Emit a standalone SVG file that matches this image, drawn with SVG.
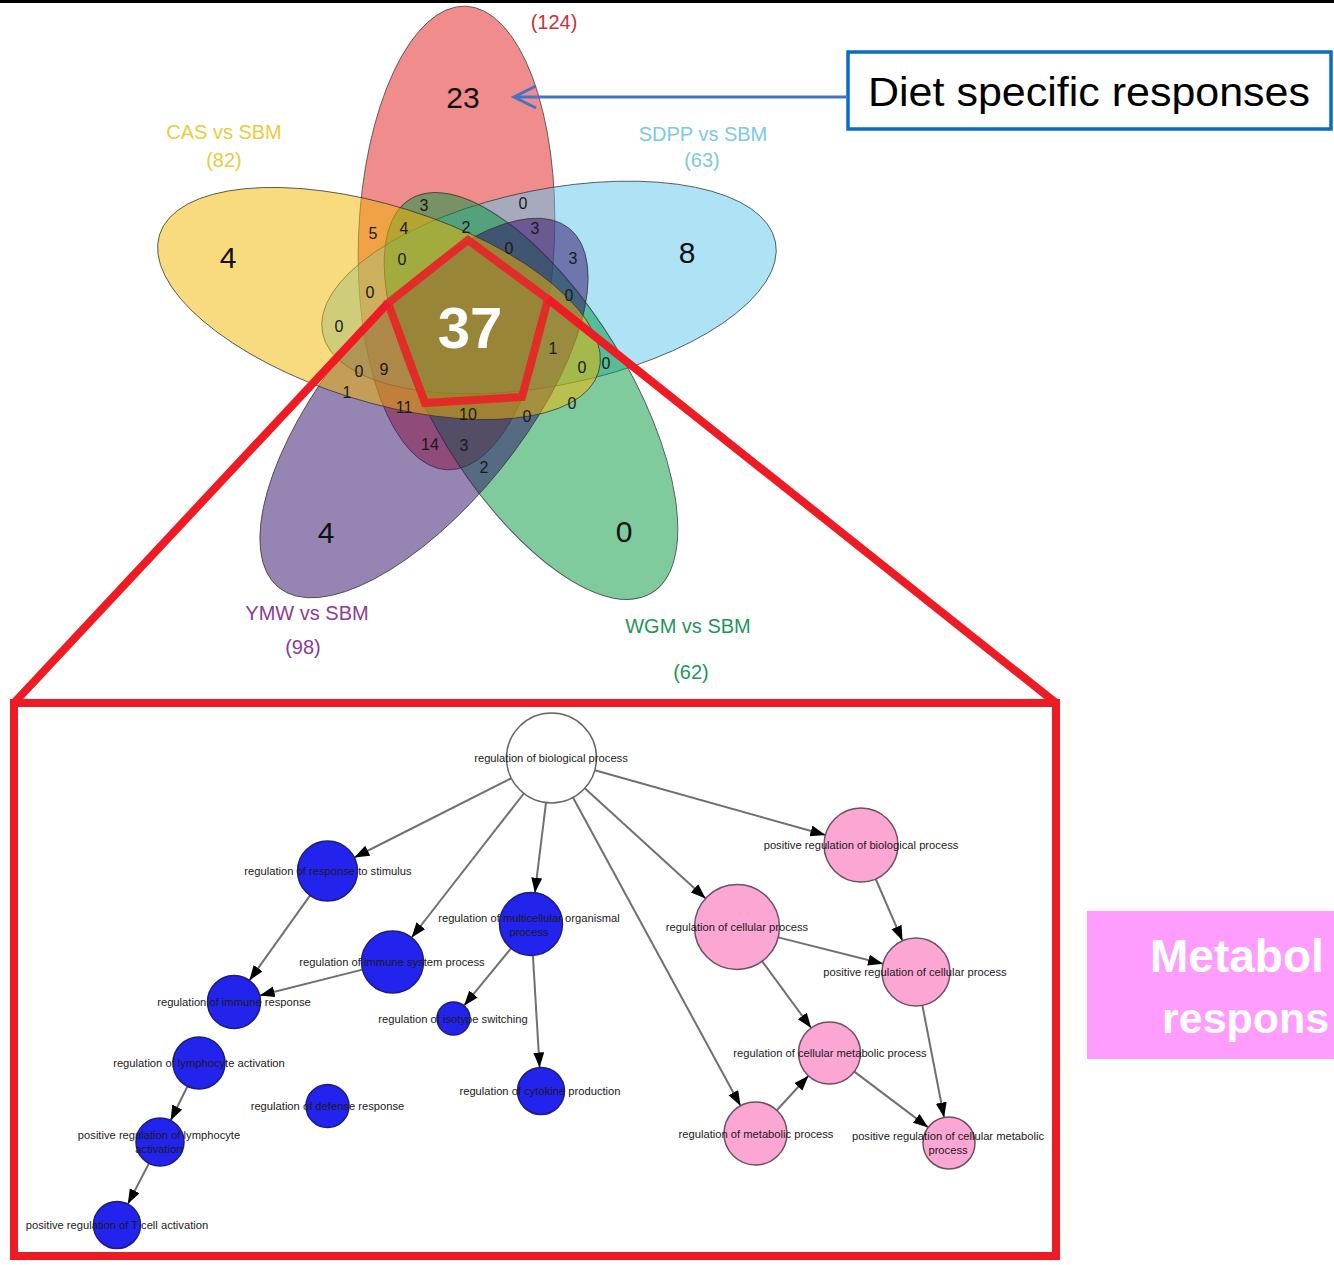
<svg xmlns="http://www.w3.org/2000/svg" width="1334" height="1265" viewBox="0 0 1334 1265">
<style>
.ell{stroke:#333;stroke-width:0.9;stroke-opacity:0.8;fill-opacity:0.5}
.vl{font-family:"Liberation Sans",Arial,sans-serif;font-size:20px;text-anchor:middle}
.big{font-family:"Liberation Sans",Arial,sans-serif;font-size:30px;text-anchor:middle;fill:#111}
.sm{font-family:"Liberation Sans",Arial,sans-serif;font-size:16px;text-anchor:middle;fill:#1a1a1a}
.red{stroke:#ED1C24;fill:none}
.edge{stroke:#707070;stroke-width:2;fill:none;marker-end:url(#ah)}
.bn{fill:#2323EE;stroke:#1C1C7A;stroke-width:1.5}
.pn{fill:#FCA6D4;stroke:#6A5060;stroke-width:1.5}
.wn{fill:#fff;stroke:#666;stroke-width:1.5}
.lb{font-family:"Liberation Sans",Arial,sans-serif;font-size:11.2px;text-anchor:middle;fill:#1a1a1a}
.mt{font-family:"Liberation Sans",Arial,sans-serif;font-weight:bold;fill:#fff}
</style>
<defs>
<marker id="ah" markerUnits="userSpaceOnUse" markerWidth="16" markerHeight="12" refX="15" refY="5.5" orient="auto">
<path d="M0,0 L15,5.5 L0,11 z" fill="#000"/>
</marker>
</defs>
<rect x="0" y="0" width="1334" height="1265" fill="#fff"/>
<rect x="0" y="0" width="1334" height="3" fill="#000"/>

<g id="venn">
<ellipse id="set-red" class="ell" cx="456.5" cy="238" rx="232" ry="98" fill="#E41A1C" transform="rotate(-87.7 456.5 238)"/>
<ellipse id="set-sdpp" class="ell" cx="549" cy="287.5" rx="231" ry="98" fill="#5BC7EB" transform="rotate(-11.4 549 287.5)"/>
<ellipse id="set-wgm" class="ell" cx="531" cy="396" rx="231" ry="98" fill="#00973D" transform="rotate(58.5 531 396)"/>
<ellipse id="set-ymw" class="ell" cx="424" cy="408" rx="231" ry="98" fill="#2E0A66" transform="rotate(129 424 408)"/>
<ellipse id="set-cas" class="ell" cx="379" cy="303.5" rx="230" ry="98" fill="#F2B600" transform="rotate(17.4 379 303.5)"/>
</g>

<g id="venn-labels">
<text class="vl" x="554" y="29" fill="#C8323C">(124)</text>
<text class="vl" x="224" y="139" fill="#EBCB3C">CAS vs SBM</text>
<text class="vl" x="224" y="167" fill="#EBCB3C">(82)</text>
<text class="vl" x="703" y="141" fill="#7DC8E6">SDPP vs SBM</text>
<text class="vl" x="702" y="167" fill="#7DC8E6">(63)</text>
<text class="vl" x="307" y="620" fill="#8A3C96">YMW vs SBM</text>
<text class="vl" x="303" y="654" fill="#8A3C96">(98)</text>
<text class="vl" x="688" y="633" fill="#1E965A">WGM vs SBM</text>
<text class="vl" x="691" y="679" fill="#1E965A">(62)</text>
</g>

<g id="venn-counts">
<text class="big" x="463" y="108">23</text>
<text class="big" x="228" y="268">4</text>
<text class="big" x="687" y="263">8</text>
<text class="big" x="326" y="543">4</text>
<text class="big" x="624" y="542">0</text>
<text class="sm" x="424" y="211">3</text>
<text class="sm" x="523" y="209">0</text>
<text class="sm" x="373" y="239">5</text>
<text class="sm" x="404" y="234">4</text>
<text class="sm" x="466" y="233">2</text>
<text class="sm" x="535" y="234">3</text>
<text class="sm" x="402" y="265">0</text>
<text class="sm" x="509" y="254">0</text>
<text class="sm" x="573" y="264">3</text>
<text class="sm" x="370" y="298">0</text>
<text class="sm" x="569" y="301">0</text>
<text class="sm" x="339" y="332">0</text>
<text class="sm" x="553" y="354">1</text>
<text class="sm" x="359" y="377">0</text>
<text class="sm" x="384" y="375">9</text>
<text class="sm" x="582" y="373">0</text>
<text class="sm" x="606" y="369">0</text>
<text class="sm" x="347" y="398">1</text>
<text class="sm" x="404" y="413">11</text>
<text class="sm" x="468" y="420">10</text>
<text class="sm" x="527" y="422">0</text>
<text class="sm" x="572" y="409">0</text>
<text class="sm" x="430" y="450">14</text>
<text class="sm" x="464" y="451">3</text>
<text class="sm" x="484" y="473">2</text>
<text x="470" y="348" font-family="Liberation Sans,Arial,sans-serif" font-size="58" font-weight="bold" fill="#fff" text-anchor="middle">37</text>
</g>

<g id="zoom-frame">
<polygon class="red" points="468,240 548,299 522,397 425,403 388,303" stroke="#F0282D" stroke-opacity="0.85" stroke-width="8"/>
<line class="red" x1="388" y1="303" x2="14" y2="703" stroke-width="8"/>
<line class="red" x1="548" y1="299" x2="1056" y2="703" stroke-width="8"/>
<rect class="red" x="14" y="703" width="1042" height="553" stroke-width="8"/>
</g>

<g id="diet-callout">
<rect x="848" y="52" width="483" height="77" fill="#fff" stroke="#0A6CC4" stroke-width="3.5"/>
<text x="868" y="106" font-family="Liberation Sans,Arial,sans-serif" font-size="41" fill="#000" textLength="442" lengthAdjust="spacingAndGlyphs">Diet specific responses</text>
<line x1="846" y1="97" x2="515" y2="97" stroke="#4472C4" stroke-width="3"/>
<polyline points="536,86 514,97 536,108" fill="none" stroke="#4472C4" stroke-width="3"/>
</g>

<g id="metabolic-callout">
<rect x="1087" y="911" width="247" height="148" fill="#FF9DFF"/>
<text class="mt" x="1150" y="972" font-size="46">Metabol</text>
<text class="mt" x="1162" y="1033" font-size="43">respons</text>
</g>

<g id="connectors">
<line class="edge" x1="511.3" y1="778.3" x2="354.3" y2="857.5"/>
<line class="edge" x1="523.8" y1="793.5" x2="411.6" y2="937.5"/>
<line class="edge" x1="546" y1="802.7" x2="534.9" y2="892.7"/>
<line class="edge" x1="573" y1="797.5" x2="740.5" y2="1105.8"/>
<line class="edge" x1="584.8" y1="788.3" x2="705.6" y2="898.4"/>
<line class="edge" x1="594.8" y1="770.2" x2="825.4" y2="835"/>
<line class="edge" x1="310.1" y1="895.4" x2="249.4" y2="980.4"/>
<line class="edge" x1="362.4" y1="969.6" x2="259.7" y2="995.5"/>
<line class="edge" x1="511" y1="948.4" x2="464" y2="1005.7"/>
<line class="edge" x1="532.9" y1="955.4" x2="539.6" y2="1067.5"/>
<line class="edge" x1="187.5" y1="1086.3" x2="170.6" y2="1120.5"/>
<line class="edge" x1="149" y1="1163.3" x2="127.8" y2="1204.1"/>
<line class="edge" x1="875.7" y1="879" x2="902.5" y2="940.8"/>
<line class="edge" x1="778.2" y1="937.4" x2="883" y2="963.7"/>
<line class="edge" x1="762.2" y1="961.3" x2="811.2" y2="1028"/>
<line class="edge" x1="776.8" y1="1110.3" x2="808.5" y2="1075.8"/>
<line class="edge" x1="854.3" y1="1071.6" x2="928.2" y2="1127.4"/>
<line class="edge" x1="922.4" y1="1005.4" x2="944.1" y2="1117.5"/>
</g>

<g id="node-bio"><circle class="wn" cx="551.5" cy="758" r="45"/><text class="lb" x="551" y="762">regulation of biological process</text></g>
<g id="node-stimulus"><circle class="bn" cx="327.5" cy="871" r="30"/><text class="lb" x="328" y="875">regulation of response to stimulus</text></g>
<g id="node-immsys"><circle class="bn" cx="392.5" cy="962" r="31"/><text class="lb" x="392" y="966">regulation of immune system process</text></g>
<g id="node-immresp"><circle class="bn" cx="234" cy="1002" r="26.5"/><text class="lb" x="234" y="1006">regulation of immune response</text></g>
<g id="node-lymph"><circle class="bn" cx="199" cy="1063" r="26"/><text class="lb" x="199" y="1067">regulation of lymphocyte activation</text></g>
<g id="node-poslymph"><circle class="bn" cx="160" cy="1142" r="24"/><text class="lb" x="159" y="1139">positive regulation of lymphocyte<tspan x="159" dy="14">activation</tspan></text></g>
<g id="node-tcell"><circle class="bn" cx="117" cy="1225" r="23.5"/><text class="lb" x="117" y="1229">positive regulation of T cell activation</text></g>
<g id="node-defense"><circle class="bn" cx="327.5" cy="1106" r="21.5"/><text class="lb" x="327.5" y="1110">regulation of defense response</text></g>
<g id="node-multi"><circle class="bn" cx="531" cy="924" r="31.5"/><text class="lb" x="529" y="922">regulation of multicellular organismal<tspan x="529" dy="14">process</tspan></text></g>
<g id="node-isotype"><circle class="bn" cx="453.5" cy="1018.5" r="16.5"/><text class="lb" x="453" y="1023">regulation of isotype switching</text></g>
<g id="node-cytokine"><circle class="bn" cx="541" cy="1091" r="23.5"/><text class="lb" x="540" y="1095">regulation of cytokine production</text></g>
<g id="node-posbio"><circle class="pn" cx="861" cy="845" r="37"/><text class="lb" x="861" y="849">positive regulation of biological process</text></g>
<g id="node-cellular"><circle class="pn" cx="737" cy="927" r="42.5"/><text class="lb" x="737" y="931">regulation of cellular process</text></g>
<g id="node-poscell"><circle class="pn" cx="916" cy="972" r="34"/><text class="lb" x="915" y="976">positive regulation of cellular process</text></g>
<g id="node-cellmet"><circle class="pn" cx="829.5" cy="1053" r="31"/><text class="lb" x="830" y="1057">regulation of cellular metabolic process</text></g>
<g id="node-met"><circle class="pn" cx="755.5" cy="1133.5" r="31.5"/><text class="lb" x="756" y="1138">regulation of metabolic process</text></g>
<g id="node-poscellmet"><circle class="pn" cx="949" cy="1143" r="26"/><text class="lb" x="948" y="1140">positive regulation of cellular metabolic<tspan x="948" dy="14">process</tspan></text></g>
</svg>
